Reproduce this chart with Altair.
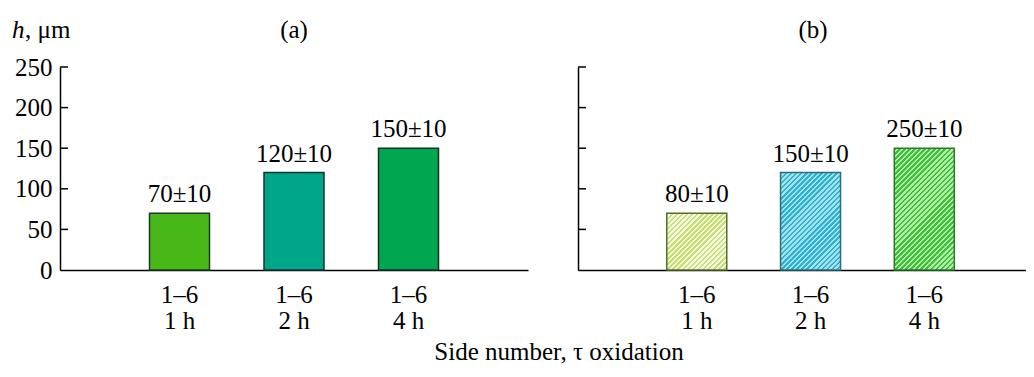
import altair as alt
import pandas as pd

# ---- data ----
positions = [1, 2, 3]
side_labels = ["1–6", "1–6", "1–6"]
time_labels = ["1 h", "2 h", "4 h"]
heights_a = [70, 120, 150]
labels_a = ["70±10", "120±10", "150±10"]
heights_b = [70, 120, 150]
labels_b = ["80±10", "150±10", "250±10"]
y_ticks = [0, 50, 100, 150, 200, 250]
inner_ticks = [50, 100, 150, 200, 250]

# ---- styles ----
FONT = "Liberation Serif"
FS = 25
PLOT_H = 203
W_A = 468
W_B = 448
XMAX_A = 4.0
XMAX_B = 3.85
BAR_W = 60
fills_a = ["#48B819", "#00A688", "#00A650"]
strokes_a = ["#1d3a22", "#15332c", "#153322"]
stripes_b = [("#C4E070", "#F7FBE3"), ("#2EB3CF", "#A6E2EE"), ("#40BE40", "#B2EFA4")]
strokes_b = ["#5a6a30", "#2a6f7c", "#2a7a2a"]


def hatch(c1, c2, w, h, period=5.0):
    n = max(1, int(round((w + h) / period)))
    stops = []
    for k in range(n):
        a = k / n
        m = (k + 0.5) / n
        b = (k + 1) / n
        stops += [
            {"offset": a, "color": c1},
            {"offset": m, "color": c1},
            {"offset": m, "color": c2},
            {"offset": b, "color": c2},
        ]
    d = (w * w + h * h)
    return {
        "gradient": "linear",
        "x1": 0, "y1": 0,
        "x2": w * (w + h) / d,
        "y2": h * (w + h) / d,
        "stops": stops,
    }


def panel(heights, labels, width, xmax, fills, strokes, show_labels, title, ylab):
    df = pd.DataFrame({
        "pos": positions,
        "h": heights,
        "lab": labels,
        "tick": [s + "\n" + t for s, t in zip(side_labels, time_labels)],
    })
    x = alt.X("pos:Q",
              scale=alt.Scale(domain=[0, xmax], nice=False, zero=False),
              axis=alt.Axis(labels=False, ticks=False, grid=False, title=None,
                            domainColor="black", domainWidth=1.5))
    y = alt.Y("h:Q",
              scale=alt.Scale(domain=[0, 250], nice=False),
              axis=alt.Axis(values=y_ticks, labels=show_labels, ticks=False, grid=False,
                            title=None, domainColor="black", domainWidth=1.5,
                            labelFont=FONT, labelFontSize=FS, labelColor="black",
                            labelPadding=8))
    layers = []
    for i in range(len(positions)):
        layers.append(
            alt.Chart(df.iloc[[i]]).mark_bar(size=BAR_W, fill=fills[i], stroke=strokes[i],
                                             strokeWidth=1.5).encode(x=x, y=y)
        )
    tick_df = pd.DataFrame({"h": inner_ticks})
    layers.append(
        alt.Chart(tick_df).mark_rule(color="black", strokeWidth=1.5).encode(
            x=alt.value(0), x2=alt.value(8), y=y)
    )
    layers.append(
        alt.Chart(df).mark_text(font=FONT, fontSize=FS, baseline="bottom", dy=-6,
                                color="black").encode(x=x, y=y, text="lab:N")
    )
    layers.append(
        alt.Chart(df).mark_text(font=FONT, fontSize=FS, baseline="top", lineBreak="\n",
                                lineHeight=26, color="black").encode(
            x=x, y=alt.value(PLOT_H + 13), text="tick:N")
    )
    one = pd.DataFrame({"a": [0]})
    layers.append(
        alt.Chart(one).mark_text(font=FONT, fontSize=FS, align="center",
                                 baseline="middle", color="black", text=title).encode(
            x=alt.value(width / 2 if ylab else 235), y=alt.value(-37))
    )
    if ylab:
        layers.append(
            alt.Chart(one).mark_text(font=FONT, fontSize=FS, fontStyle="italic", align="left",
                                     baseline="middle", color="black", text="h").encode(
                x=alt.value(-48), y=alt.value(-37))
        )
        layers.append(
            alt.Chart(one).mark_text(font=FONT, fontSize=FS, align="left",
                                     baseline="middle", color="black", text=", μm").encode(
                x=alt.value(-35), y=alt.value(-37))
        )
    return alt.layer(*layers).properties(width=width, height=PLOT_H)


fills_b = [hatch(c1, c2, BAR_W, h * PLOT_H / 250) for (c1, c2), h in zip(stripes_b, heights_b)]

left = panel(heights_a, labels_a, W_A, XMAX_A, fills_a, strokes_a, True, "(a)", True)
right = panel(heights_b, labels_b, W_B, XMAX_B, fills_b, strokes_b, False, "(b)", False)

chart = alt.hconcat(left, right, spacing=49).properties(
    title=alt.TitleParams("Side number, τ oxidation", orient="bottom", anchor="middle",
                          font=FONT, fontSize=FS, fontWeight="normal", color="black",
                          offset=6, dx=40),
    padding={"left": 4, "top": 10, "right": 0, "bottom": 0},
    background="white",
).configure_view(stroke="transparent", strokeWidth=0)

chart.save("out.html", embed_options={"renderer": "svg", "actions": False})
